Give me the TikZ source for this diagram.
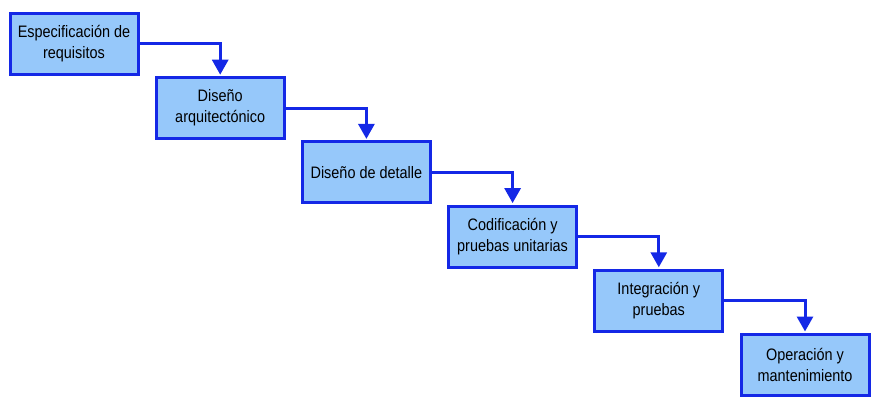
\documentclass[tikz,border=0pt]{standalone}
\usepackage{fontspec}
\setmainfont{Liberation Sans}[FakeStretch=0.87]
\usepackage{xcolor}
\usepackage{tikz}
\usetikzlibrary{arrows.meta, positioning}
\definecolor{StageFill}{RGB}{150,200,250}
\definecolor{StageLine}{RGB}{20,40,230}

\begin{document}
\begin{tikzpicture}[
  >={Triangle[length=15pt,width=16pt]},
  x=1pt, y=-1pt,
  stage/.style={draw=StageLine, line width=3pt, fill=StageFill,
    minimum width=128pt, minimum height=61pt, inner sep=0pt,
    align=center, text=black, font=\fontsize{16.6}{21}\selectfont},
  flow/.style={->, StageLine, line width=3pt, shorten >=1.5pt},
]
\useasboundingbox (0,0) rectangle (880,409);

% --- Stages ---
\node[stage] (req)  at (74, 44)    {Especificación de\\requisitos};
\node[stage] (arq)  at (220.2,108.2) {Diseño\\arquitectónico};
\node[stage] (det)  at (366.4,172.4) {Diseño de detalle};
\node[stage] (cod)  at (512.6,236.6) {Codificación y\\pruebas unitarias};
\node[stage] (int)  at (658.8,300.8) {Integración y\\pruebas};
\node[stage] (ope)  at (805, 365)   {Operación y\\mantenimiento};

% --- Flow between stages ---
\draw[flow] (req.east) -| (arq.north);
\draw[flow] (arq.east) -| (det.north);
\draw[flow] (det.east) -| (cod.north);
\draw[flow] (cod.east) -| (int.north);
\draw[flow] (int.east) -| (ope.north);

\end{tikzpicture}
\end{document}
